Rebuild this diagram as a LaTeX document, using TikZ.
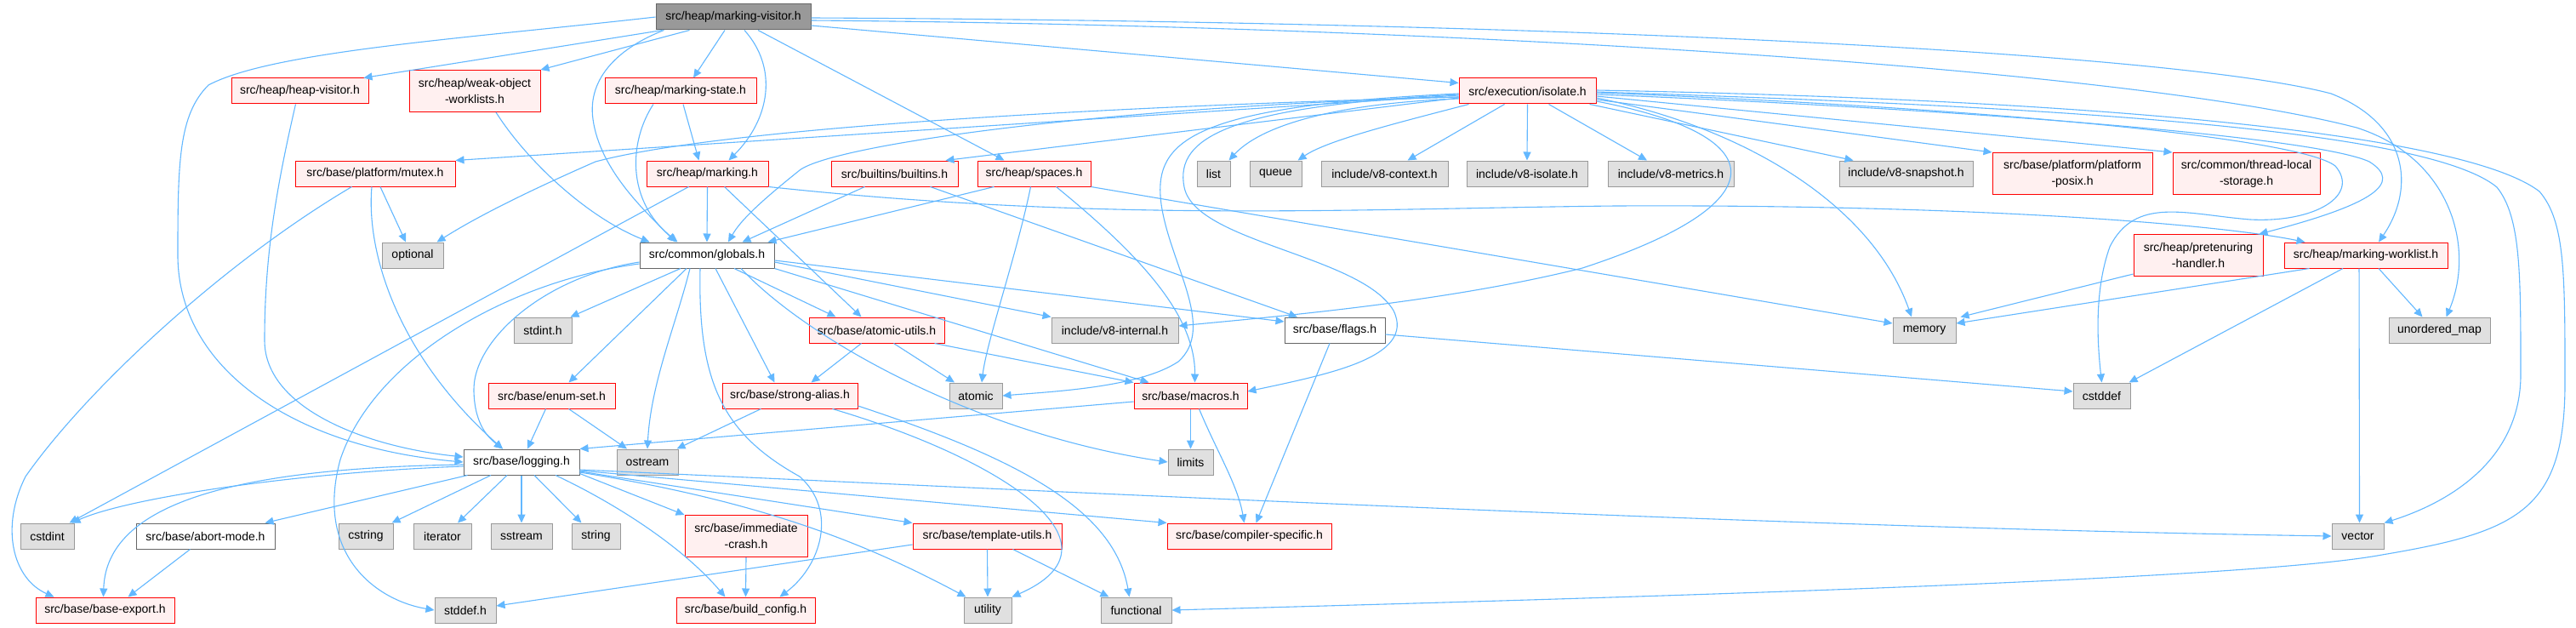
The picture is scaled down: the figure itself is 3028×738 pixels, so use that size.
\documentclass[tikz,border=0pt]{standalone}
\usepackage{fontspec}
\setmainfont{Liberation Sans}
\usetikzlibrary{arrows.meta,calc}
\definecolor{edgec}{HTML}{63B8FF}
\definecolor{redfill}{HTML}{FFF0F0}
\definecolor{extfill}{HTML}{E0E0E0}
\definecolor{extdraw}{HTML}{999999}
\definecolor{maindraw}{HTML}{666666}
\definecolor{mainfill}{HTML}{999999}
\newcommand\mkn[6]{\node[#5, minimum width={0.5pt*(#3-#2)}] (#1) at ({(#2+#3)/2},#4) {#6};}
\begin{document}
\begin{tikzpicture}[x=0.5pt,y=-0.5pt,
  font=\fontsize{7}{9.5}\selectfont,
  box/.style={draw, rectangle, inner sep=0pt, line width=0.5pt, minimum height=15pt, align=center},
  redn/.style={box, draw=red, fill=redfill},
  redtwo/.style={redn, minimum height=24.5pt},
  extn/.style={box, draw=extdraw, fill=extfill},
  whiten/.style={box, draw=maindraw, fill=white},
  mainn/.style={box, draw=maindraw, fill=mainfill},
  dep/.style={draw=edgec, line width=0.55pt, -{Triangle[length=5pt,width=4.5pt]}}]
\fill[white] (0,0) rectangle (3028,738);
\useasboundingbox (0,0) rectangle (3028,738);
% nodes
\mkn{mv}{771}{953}{20}{mainn}{src/heap/marking-visitor.h}
\mkn{hv}{272}{433}{107}{redn}{src/heap/heap-visitor.h}
\mkn{wow}{481}{635}{107}{redtwo}{src/heap/weak-object\\-worklists.h}
\mkn{ms}{711}{889}{107}{redn}{src/heap/marking-state.h}
\mkn{iso}{1715}{1876}{107}{redn}{src/execution/isolate.h}
\mkn{mutex}{347}{535}{204}{redn}{src/base/platform/mutex.h}
\mkn{mk}{760}{903}{204}{redn}{src/heap/marking.h}
\mkn{bi}{977}{1126}{204}{redn}{src/builtins/builtins.h}
\mkn{sp}{1149}{1282}{204}{redn}{src/heap/spaces.h}
\mkn{list}{1407}{1446}{204}{extn}{list}
\mkn{queue}{1469}{1530}{204}{extn}{queue}
\mkn{vctx}{1553}{1702}{204}{extn}{include/v8-context.h}
\mkn{viso}{1724}{1866}{204}{extn}{include/v8-isolate.h}
\mkn{vmet}{1890}{2038}{204}{extn}{include/v8-metrics.h}
\mkn{vsnap}{2162}{2319}{204}{extn}{include/v8-snapshot.h}
\mkn{posix}{2342}{2530}{204}{redtwo}{src/base/platform/platform\\-posix.h}
\mkn{tls}{2554}{2727}{204}{redtwo}{src/common/thread-local\\-storage.h}
\mkn{opt}{449}{521}{300}{extn}{optional}
\mkn{glob}{752}{910}{300}{whiten}{src/common/globals.h}
\mkn{preh}{2508}{2660}{300}{redtwo}{src/heap/pretenuring\\-handler.h}
\mkn{mwl}{2685}{2877}{300}{redn}{src/heap/marking-worklist.h}
\mkn{stdint}{604}{672}{388}{extn}{stdint.h}
\mkn{au}{951}{1110}{388}{redn}{src/base/atomic-utils.h}
\mkn{vint}{1236}{1385}{388}{extn}{include/v8-internal.h}
\mkn{flags}{1510}{1628}{388}{whiten}{src/base/flags.h}
\mkn{mem}{2225}{2299}{388}{extn}{memory}
\mkn{umap}{2808}{2927}{388}{extn}{unordered\_map}
\mkn{enum}{574}{723}{465}{redn}{src/base/enum-set.h}
\mkn{sa}{849}{1008}{465}{redn}{src/base/strong-alias.h}
\mkn{atomic}{1116}{1178}{465}{extn}{atomic}
\mkn{mac}{1333}{1466}{465}{redn}{src/base/macros.h}
\mkn{cstddef}{2437}{2504}{465}{extn}{cstddef}
\mkn{logg}{545}{681}{543}{whiten}{src/base/logging.h}
\mkn{ostream}{725}{797}{543}{extn}{ostream}
\mkn{limits}{1373}{1426}{543}{extn}{limits}
\mkn{cstdint}{24}{87}{630}{extn}{cstdint}
\mkn{abort}{160}{323}{630}{whiten}{src/base/abort-mode.h}
\mkn{cstring}{398}{462}{630}{extn}{cstring}
\mkn{iter}{486}{554}{630}{extn}{iterator}
\mkn{sstream}{577}{649}{630}{extn}{sstream}
\mkn{string}{672}{729}{630}{extn}{string}
\mkn{imm}{805}{949}{630}{redtwo}{src/base/immediate\\-crash.h}
\mkn{tu}{1073}{1248}{630}{redn}{src/base/template-utils.h}
\mkn{cs}{1372}{1565}{630}{redn}{src/base/compiler-specific.h}
\mkn{vec}{2741}{2802}{630}{extn}{vector}
\mkn{be}{42}{205}{717}{redn}{src/base/base-export.h}
\mkn{stddef}{511}{583}{717}{extn}{stddef.h}
\mkn{bc}{795}{958}{717}{redn}{src/base/build\_config.h}
\mkn{util}{1133}{1189}{717}{extn}{utility}
\mkn{func}{1294}{1377}{717}{extn}{functional}
% edges from marking-visitor
\draw[dep] ($(mv.south west)+(8,0)$) -- ($(hv.north east)+(-6,0)$);
\draw[dep] ($(mv.south west)+(40,0)$) -- (wow.north east);
\draw[dep] (mv.west) .. controls (550,45) and (320,60) .. (245,100) .. controls (210,135) and (209,190) .. (209,300) .. controls (209,430) and (340,525) .. (logg.west);
\draw[dep] ($(mv.south west)+(10,0)$) .. controls (730,55) and (690,90) .. (697,140) .. controls (705,200) and (760,250) .. ($(glob.north west)+(43,0)$);
\draw[dep] ($(mv.south)+(-10,0)$) -- ($(ms.north)+(15,0)$);
\draw[dep] ($(mv.south)+(13,0)$) .. controls (915,80) and (905,140) .. ($(mk.north)+(25,0)$);
\draw[dep] ($(mv.south)+(29,0)$) -- ($(sp.north)+(-35,0)$);
\draw[dep] ($(mv.east)+(0,10)$) -- ($(iso.north west)+(0,6)$);
\draw[dep] ($(mv.east)+(0,1)$) .. controls (1800,25) and (2550,60) .. (2740,110) .. controls (2830,145) and (2840,220) .. ($(mwl.north)+(15,0)$);
\draw[dep] ($(mv.east)+(0,4)$) .. controls (1700,30) and (2500,80) .. (2770,150) .. controls (2880,185) and (2910,290) .. ($(umap.north)+(8,0)$);
% edges from isolate
\draw[dep] ($(iso.west)+(0,5)$) -- (mutex.north east);
\draw[dep] ($(iso.west)+(0,7)$) .. controls (1300,125) and (850,150) .. (700,190) .. controls (620,225) and (560,255) .. ($(opt.north east)+(-8,0)$);
\draw[dep] ($(iso.west)+(0,7)$) .. controls (1300,125) and (980,170) .. (940,200) .. controls (890,240) and (870,260) .. ($(glob.north)+(25,0)$);
\draw[dep] ($(iso.west)+(0,8)$) -- ($(bi.north east)+(-15,0)$);
\draw[dep] ($(iso.west)+(0,9)$) .. controls (1560,122) and (1480,150) .. ($(list.north east)+(-2,0)$);
\draw[dep] ($(iso.south west)+(12,0)$) .. controls (1640,145) and (1560,165) .. ($(queue.north east)+(-5,0)$);
\draw[dep] ($(iso.south)+(-27,0)$) -- ($(vctx.north)+(27,0)$);
\draw[dep] (iso.south) -- (viso.north);
\draw[dep] ($(iso.south)+(25,0)$) -- ($(vmet.north)+(-28,0)$);
\draw[dep] ($(iso.south east)+(-8,0)$) -- ($(vsnap.north west)+(17,0)$);
\draw[dep] ($(iso.east)+(0,10)$) -- (posix.north west);
\draw[dep] ($(iso.east)+(0,6)$) -- (tls.north west);
\draw[dep] ($(iso.east)+(0,8)$) .. controls (2050,150) and (2200,240) .. ($(mem.north)+(-15,0)$);
\draw[dep] ($(iso.east)+(0,12)$) .. controls (2090,160) and (2090,240) .. (1860,315) .. controls (1700,355) and (1500,372) .. ($(vint.east)+(0,-5)$);
\draw[dep] ($(iso.west)+(0,4)$) .. controls (1450,125) and (1380,160) .. (1392,220) .. controls (1405,285) and (1600,300) .. (1638,365) .. controls (1665,420) and (1560,440) .. ($(mac.east)+(0,-5)$);
\draw[dep] ($(iso.west)+(0,3)$) .. controls (1400,125) and (1355,165) .. (1365,240) .. controls (1375,310) and (1430,385) .. (1385,425) .. controls (1340,455) and (1240,460) .. (atomic.east);
\draw[dep] ($(iso.east)+(0,2)$) .. controls (2300,125) and (2700,160) .. (2745,195) .. controls (2775,230) and (2720,262) .. (2645,258) .. controls (2570,252) and (2510,230) .. (2480,290) .. controls (2462,340) and (2465,400) .. (cstddef.north);
\draw[dep] ($(iso.east)+(0,4)$) .. controls (2300,128) and (2720,160) .. (2785,190) .. controls (2825,215) and (2790,240) .. ($(preh.north east)+(-5,0)$);
\draw[dep] ($(iso.east)+(0,1)$) .. controls (2400,125) and (2850,150) .. (2935,220) .. controls (2963,255) and (2963,320) .. (2963,440) .. controls (2963,540) and (2880,590) .. (vec.north east);
\draw[dep] ($(iso.east)+(0,-1)$) .. controls (2500,118) and (2900,160) .. (2985,225) .. controls (3015,260) and (3015,320) .. (3015,450) .. controls (3015,600) and (2960,625) .. (2800,652) .. controls (2650,680) and (2000,700) .. (func.east);
% second level
\draw[dep] ($(hv.south)+(-5,0)$) .. controls (325,220) and (311,300) .. (311,400) .. controls (311,480) and (430,525) .. ($(logg.west)+(0,-6)$);
\draw[dep] ($(wow.south)+(25,0)$) .. controls (620,190) and (690,255) .. ($(glob.north west)+(12,0)$);
\draw[dep] ($(ms.south)+(-32,0)$) .. controls (740,165) and (735,235) .. ($(glob.north west)+(45,0)$);
\draw[dep] ($(ms.south)+(3,0)$) -- ($(mk.north)+(-10,0)$);
\draw[dep] ($(mutex.south)+(6,0)$) -- ($(opt.north)+(-8,0)$);
\draw[dep] ($(mutex.south)+(-4,0)$) .. controls (430,300) and (470,420) .. ($(logg.north)+(-22,0)$);
\draw[dep] ($(mutex.south west)+(67,0)$) .. controls (260,310) and (100,460) .. (30,560) .. controls (0,620) and (15,680) .. ($(be.north west)+(22,0)$);
\draw[dep] (mk.south) -- (glob.north);
\draw[dep] ($(mk.south)+(20,0)$) -- ($(au.north)+(-18,0)$);
\draw[dep] ($(mk.south west)+(50,0)$) -- ($(cstdint.north east)+(-6,0)$);
\draw[dep] (mk.south east) .. controls (1300,262) and (1600,245) .. (1900,242) .. controls (2300,240) and (2600,262) .. ($(mwl.north west)+(25,0)$);
\draw[dep] ($(bi.south)+(-35,0)$) -- ($(glob.north east)+(-38,0)$);
\draw[dep] ($(bi.south)+(42,0)$) -- ($(flags.north)+(-44,0)$);
\draw[dep] ($(sp.south west)+(20,0)$) -- ($(glob.north east)+(-8,0)$);
\draw[dep] ($(sp.south)+(-4,0)$) .. controls (1195,300) and (1160,400) .. ($(atomic.north)+(7,0)$);
\draw[dep] ($(sp.south)+(26,0)$) .. controls (1340,300) and (1405,370) .. ($(mac.north)+(5,0)$);
\draw[dep] (sp.south east) -- ($(mem.west)+(0,-8)$);
% globals
\draw[dep] ($(glob.south)+(-31,0)$) -- ($(stdint.north east)+(-2,0)$);
\draw[dep] ($(glob.south)+(-24,0)$) -- ($(enum.north)+(20,0)$);
\draw[dep] ($(glob.west)+(0,8)$) .. controls (640,325) and (555,400) .. (557,460) .. controls (558,500) and (575,515) .. ($(logg.north)+(-22,0)$);
\draw[dep] ($(glob.south)+(-20,0)$) .. controls (795,380) and (765,450) .. (ostream.north);
\draw[dep] ($(glob.west)+(0,10)$) .. controls (600,330) and (440,420) .. (400,540) .. controls (370,650) and (440,705) .. (stddef.west);
\draw[dep] ($(glob.south)+(32,0)$) -- ($(au.north)+(-48,0)$);
\draw[dep] ($(glob.south)+(10,0)$) -- ($(sa.north)+(-18,0)$);
\draw[dep] (glob.south east) -- ($(mac.north west)+(18,0)$);
\draw[dep] ($(glob.south)+(40,0)$) .. controls (950,400) and (1150,510) .. (limits.west);
\draw[dep] ($(glob.south)+(-8,0)$) .. controls (820,450) and (850,510) .. (940,560) .. controls (985,600) and (965,665) .. ($(bc.north)+(40,0)$);
\draw[dep] ($(glob.east)+(0,8)$) -- (vint.north west);
\draw[dep] ($(glob.east)+(0,6)$) -- ($(flags.west)+(0,-10)$);
% lower levels
\draw[dep] ($(au.south)+(-18,0)$) -- ($(sa.north)+(25,0)$);
\draw[dep] ($(au.south)+(20,0)$) -- ($(atomic.north)+(-25,0)$);
\draw[dep] ($(au.south east)+(-12,0)$) -- (mac.north west);
\draw[dep] ($(sa.south west)+(46,0)$) -- ($(ostream.north east)+(-2,0)$);
\draw[dep] ($(sa.south)+(50,0)$) .. controls (1180,540) and (1330,640) .. (util.north east);
\draw[dep] ($(sa.east)+(0,12)$) .. controls (1200,540) and (1310,600) .. ($(func.north)+(-8,0)$);
\draw[dep] ($(mac.west)+(0,7)$) -- (logg.north east);
\draw[dep] (mac.south) -- (limits.north);
\draw[dep] ($(mac.south)+(10,0)$) .. controls (1430,530) and (1455,570) .. ($(cs.north)+(-6,0)$);
\draw[dep] ($(flags.east)+(0,5)$) -- ($(cstddef.west)+(0,-5)$);
\draw[dep] ($(flags.south)+(-6,0)$) -- ($(cs.north)+(8,0)$);
\draw[dep] ($(enum.south)+(-7,0)$) -- ($(logg.north)+(7,0)$);
\draw[dep] ($(enum.south)+(20,0)$) -- ($(ostream.north)+(-24,0)$);
% logging
\draw[dep] ($(logg.west)+(0,5)$) .. controls (350,555) and (150,585) .. ($(cstdint.north east)+(-3,0)$);
\draw[dep] ($(logg.west)+(0,3)$) .. controls (280,550) and (125,590) .. ($(be.north)+(-2,0)$);
\draw[dep] ($(logg.south west)+(5,0)$) -- ($(abort.north east)+(-12,0)$);
\draw[dep] ($(logg.south)+(-36,0)$) -- ($(cstring.north east)+(-2,0)$);
\draw[dep] ($(logg.south)+(-17,0)$) -- ($(iter.north)+(18,0)$);
\draw[dep] (logg.south) -- (sstream.north);
\draw[dep] ($(logg.south)+(15,0)$) -- ($(string.north)+(-17,0)$);
\draw[dep] ($(logg.south)+(40,0)$) .. controls (720,590) and (800,640) .. ($(bc.north)+(-24,0)$);
\draw[dep] ($(logg.south east)+(0,-2)$) -- (imm.north west);
\draw[dep] ($(logg.east)+(0,12)$) .. controls (900,590) and (1020,640) .. ($(util.north west)+(3,0)$);
\draw[dep] ($(logg.east)+(0,11)$) -- (tu.north west);
\draw[dep] ($(logg.east)+(0,10)$) -- (cs.north west);
\draw[dep] ($(logg.east)+(0,9)$) .. controls (1300,580) and (2100,620) .. (vec.west);
\draw[dep] ($(abort.south)+(-18,0)$) -- ($(be.north)+(27,0)$);
\draw[dep] (imm.south) -- (bc.north);
\draw[dep] ($(tu.west)+(0,10)$) -- ($(stddef.east)+(0,-5)$);
\draw[dep] (tu.south) -- (util.north);
\draw[dep] ($(tu.south)+(30,0)$) -- ($(func.north)+(-32,0)$);
% marking-worklist and pretenuring
\draw[dep] ($(mwl.south west)+(30,0)$) -- ($(mem.east)+(0,-8)$);
\draw[dep] ($(mwl.south)+(-27,0)$) -- ($(cstddef.north east)+(-2,0)$);
\draw[dep] ($(mwl.south)+(-8,0)$) -- ($(vec.north)+(2,0)$);
\draw[dep] ($(mwl.south)+(15,0)$) -- ($(umap.north)+(-20,0)$);
\draw[dep] ($(preh.south west)+(0,-3)$) -- ($(mem.north east)+(5,0)$);
\end{tikzpicture}
\end{document}
